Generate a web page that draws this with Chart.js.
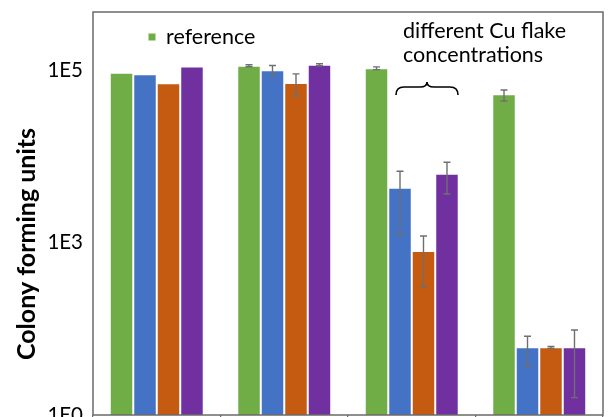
<!DOCTYPE html>
<html>
<head>
<meta charset="utf-8">
<script src="https://cdn.jsdelivr.net/npm/chart.js@4"></script>
<style>
    html, body { margin: 0; padding: 0; background: #fff; overflow: hidden; }
    #wrap { width: 611px; height: 417px; }
</style>
</head>
<body>
<div id="wrap"><canvas id="cfuChart"></canvas></div>
<script>
// categories (names are cut off in the picture)
const groups = ['A', 'B', 'C', 'D'];
const seriesNames = ['reference', 'Cu flake conc. 1', 'Cu flake conc. 2', 'Cu flake conc. 3'];
const seriesColors = ['#70AD47', '#4472C4', '#C55A11', '#7030A0'];

// colony forming units
const referenceCfu = [93000, 112000, 104700, 52300];
const cuLowCfu = [89100, 99300, 4320, 61];
const cuMidCfu = [70100, 70600, 797, 61];
const cuHighCfu = [110000, 115000, 6280, 61];

// error bars as [low, high], null when there is none
const referenceErr = [null, [109000, 115000], [101000, 108500], [43700, 58600]];
const cuLowErr = [null, [86100, 112500], [1230, 6700], [36.7, 81.7]];
const cuMidErr = [null, [50000, 90000], [305, 1190], [59.5, 62.5]];
const cuHighErr = [null, [112000, 118000], [3650, 8510], [15.9, 96.8]];

// y axis ticks as labelled in the figure
const tickValues = [10, 1000, 100000];
const tickLabels = ['1E0', '1E3', '1E5'];

const allValues = [referenceCfu, cuLowCfu, cuMidCfu, cuHighCfu];
const allErrors = [referenceErr, cuLowErr, cuMidErr, cuHighErr];

const FONT = 'Lato, "Open Sans", sans-serif';

const errorBarPlugin = {
    id: 'errorBars',
    afterDatasetsDraw(chart) {
        const ctx = chart.ctx;
        const yScale = chart.scales.y;
        ctx.save();
        ctx.strokeStyle = '#6f6f6f';
        ctx.lineWidth = 1.4;
        chart.data.datasets.forEach((ds, i) => {
            const meta = chart.getDatasetMeta(i);
            meta.data.forEach((bar, j) => {
                const err = ds.errors[j];
                if (!err) return;
                const x = bar.x;
                const yLow = yScale.getPixelForValue(err[0]);
                const yHigh = yScale.getPixelForValue(err[1]);
                ctx.beginPath();
                ctx.moveTo(x, yLow);
                ctx.lineTo(x, yHigh);
                ctx.moveTo(x - 3.5, yLow);
                ctx.lineTo(x + 3.5, yLow);
                ctx.moveTo(x - 3.5, yHigh);
                ctx.lineTo(x + 3.5, yHigh);
                ctx.stroke();
            });
        });
        ctx.restore();
    }
};

const decorPlugin = {
    id: 'decor',
    afterDraw(chart) {
        const ctx = chart.ctx;
        const area = chart.chartArea;
        ctx.save();

        // plot frame
        ctx.strokeStyle = '#6a6a6a';
        ctx.lineWidth = 1.5;
        ctx.strokeRect(area.left, area.top, area.right - area.left, area.bottom - area.top);

        // y axis title
        ctx.fillStyle = '#000';
        ctx.save();
        ctx.translate(27, 244);
        ctx.rotate(-Math.PI / 2);
        ctx.font = 'bold 25px ' + FONT;
        ctx.textAlign = 'center';
        ctx.textBaseline = 'middle';
        ctx.fillText('Colony forming units', 0, 0);
        ctx.restore();

        // legend entry for the reference only
        ctx.fillStyle = seriesColors[0];
        ctx.fillRect(148.5, 33.5, 7, 7);
        ctx.fillStyle = '#000';
        ctx.font = '21.5px ' + FONT;
        ctx.textAlign = 'left';
        ctx.textBaseline = 'alphabetic';
        ctx.fillText(seriesNames[0], 166, 44);

        // annotation
        ctx.fillText('different Cu flake', 403, 38);
        ctx.fillText('concentrations', 403, 62);

        // curly brace over the Cu bars
        ctx.strokeStyle = '#000';
        ctx.lineWidth = 1.6;
        ctx.beginPath();
        ctx.moveTo(396, 95);
        ctx.quadraticCurveTo(396, 87, 404, 87);
        ctx.lineTo(420, 87);
        ctx.quadraticCurveTo(427, 87, 427, 82);
        ctx.quadraticCurveTo(427, 87, 434, 87);
        ctx.lineTo(450, 87);
        ctx.quadraticCurveTo(458, 87, 458, 95);
        ctx.stroke();

        ctx.restore();
    }
};

const ctx = document.getElementById('cfuChart').getContext('2d');

new Chart(ctx, {
    type: 'bar',
    data: {
        labels: groups,
        datasets: allValues.map((vals, i) => ({
            label: seriesNames[i],
            data: vals,
            errors: allErrors[i],
            backgroundColor: seriesColors[i],
            borderColor: 'rgba(255,255,255,0.35)',
            borderWidth: 1,
            categoryPercentage: 0.737,
            barPercentage: 1.0
        }))
    },
    options: {
        responsive: true,
        maintainAspectRatio: false,
        animation: false,
        layout: { autoPadding: false, padding: { top: 12, right: 8, left: 0, bottom: 0 } },
        plugins: {
            legend: { display: false },
            tooltip: { enabled: false }
        },
        scales: {
            x: {
                offset: true,
                grid: { offset: true, drawOnChartArea: false, tickLength: 6, color: '#6a6a6a', lineWidth: 1.2 },
                ticks: { display: false },
                border: { display: false },
                afterFit: scale => { scale.height = 2; }
            },
            y: {
                type: 'logarithmic',
                min: 10,
                max: 470000,
                grid: { display: false, drawTicks: false },
                border: { display: false },
                afterFit: scale => {
                    scale.width = 93;
                    // labels may hang over the plot edges, as in the figure
                    scale.paddingTop = 0;
                    scale.paddingBottom = 0;
                },
                afterBuildTicks: scale => {
                    scale.ticks = tickValues.map(v => ({ value: v }));
                },
                ticks: {
                    padding: 10,
                    color: '#000',
                    font: { family: FONT, size: 20.5 },
                    callback: (value, index) => tickLabels[index]
                }
            }
        }
    },
    plugins: [errorBarPlugin, decorPlugin]
});
</script>
</body>
</html>
